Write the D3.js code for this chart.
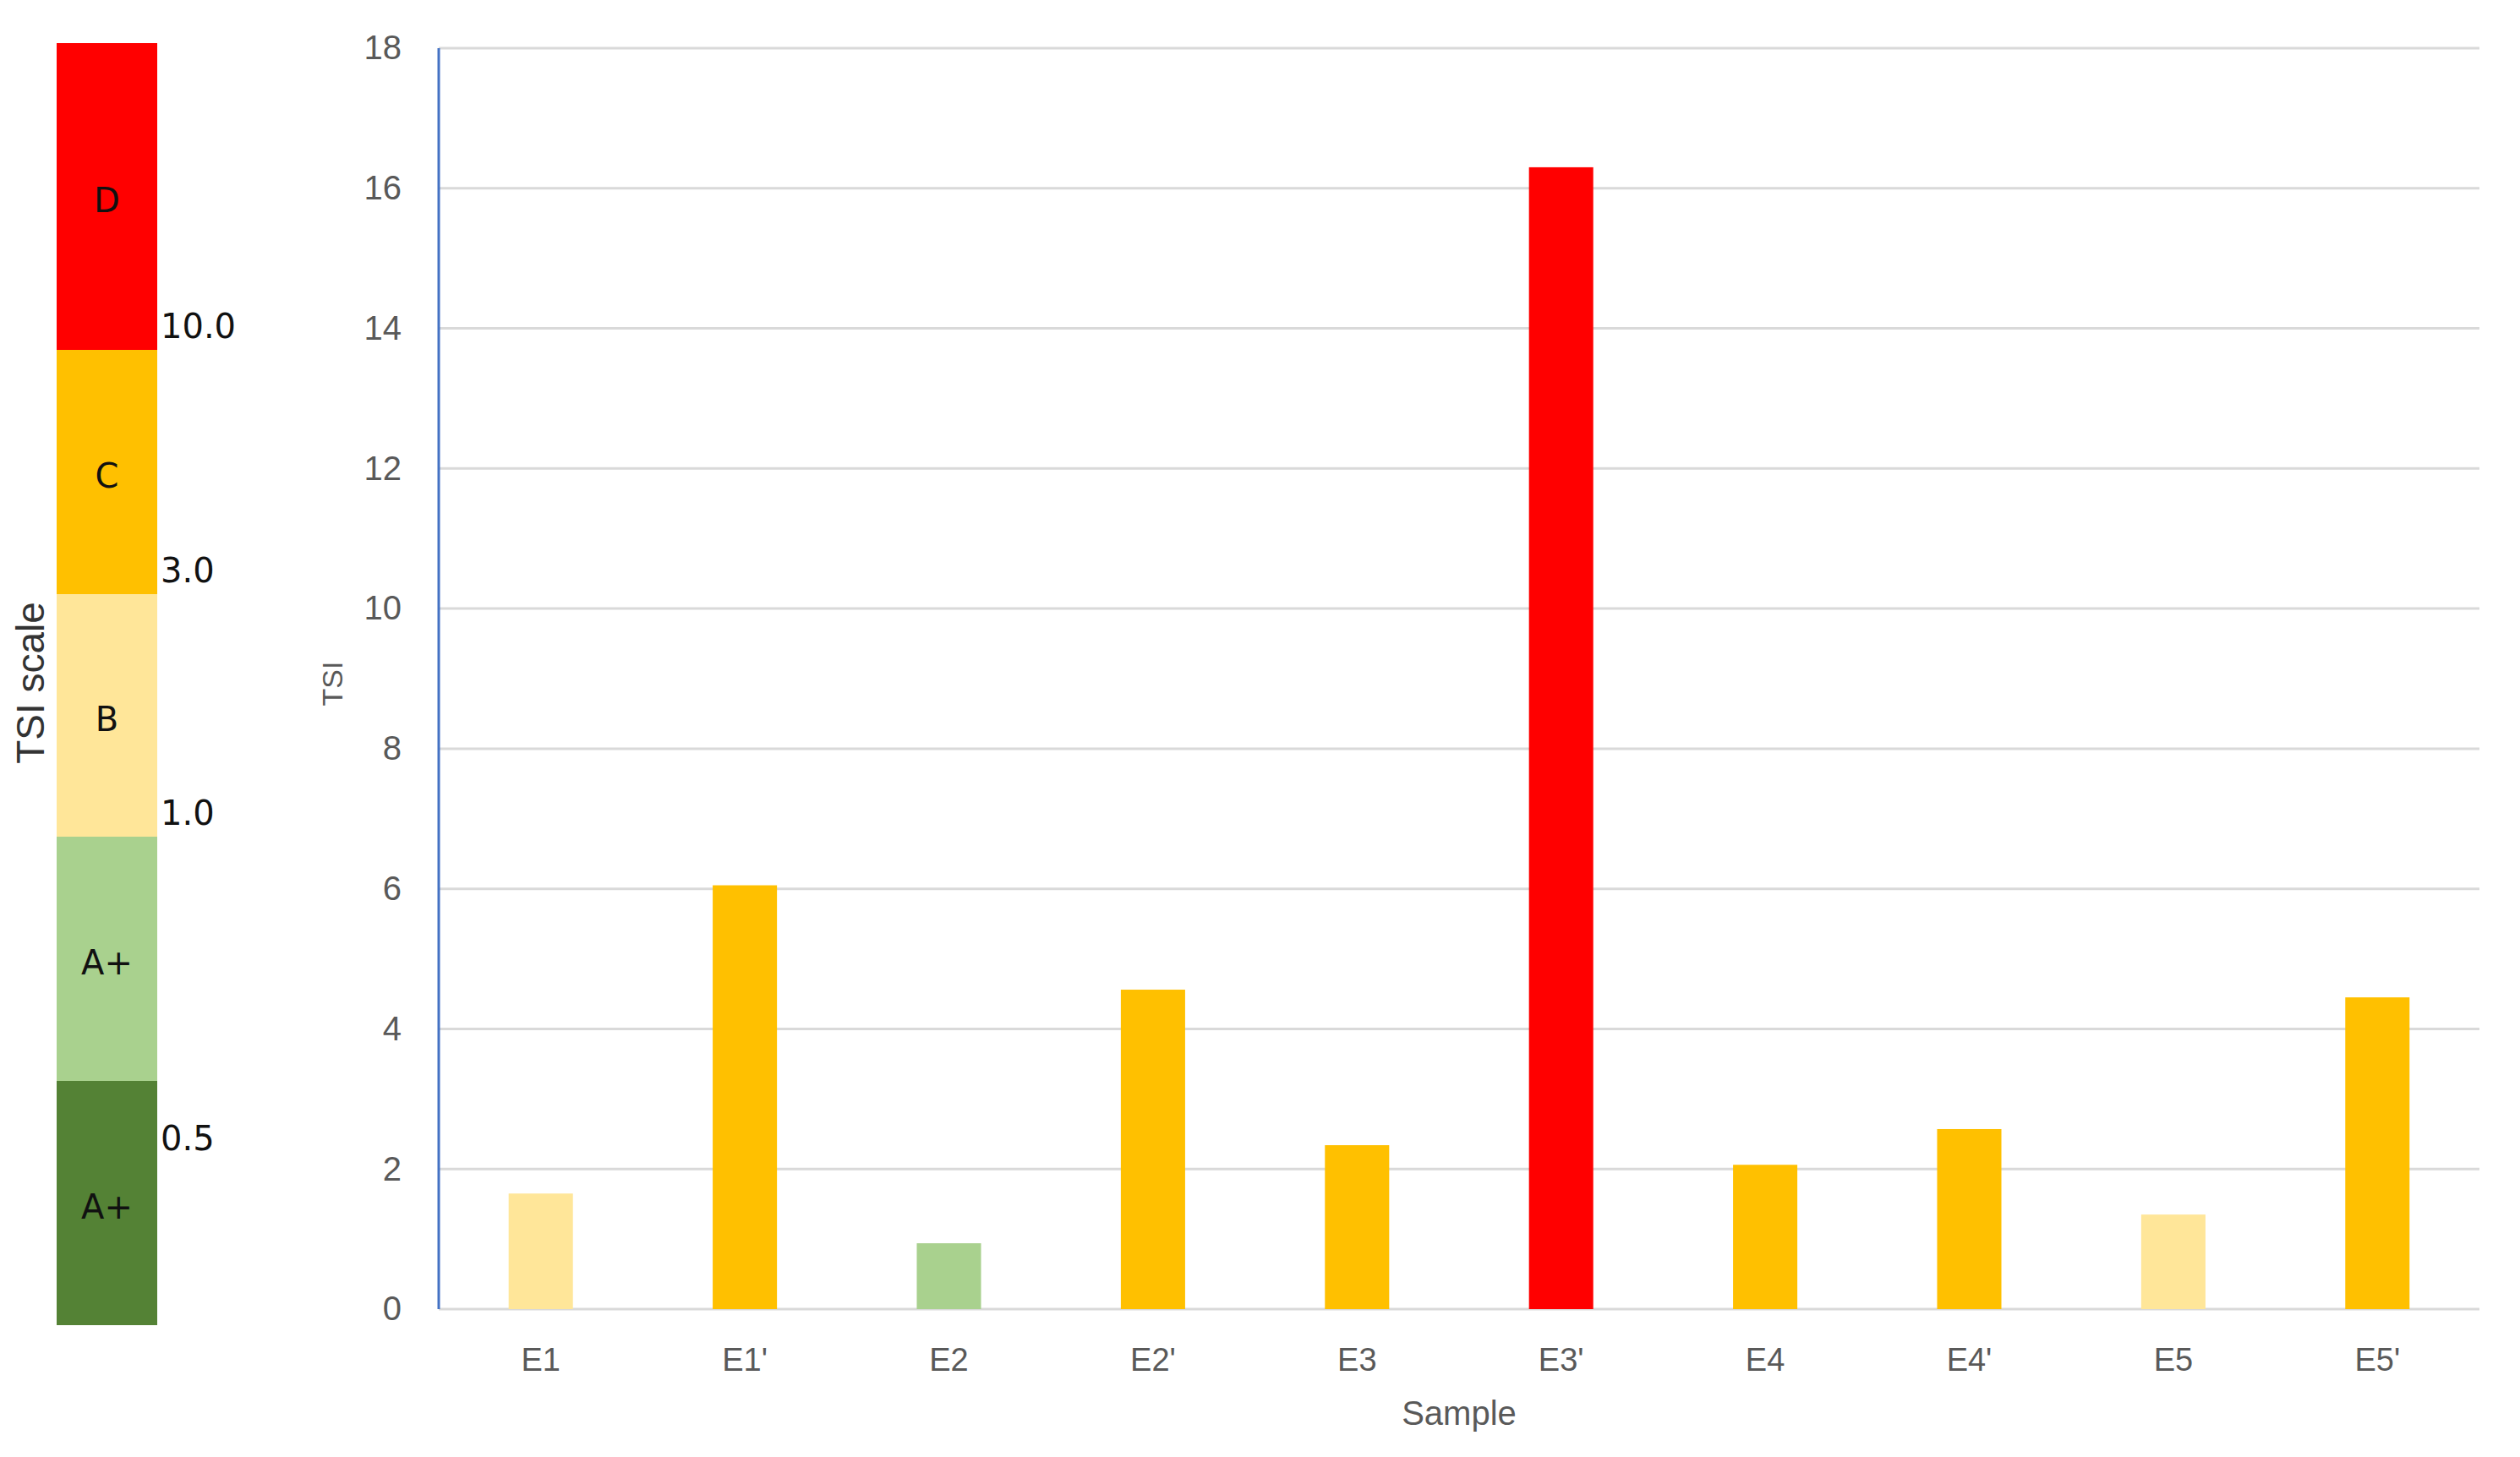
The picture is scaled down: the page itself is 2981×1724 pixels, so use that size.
<!DOCTYPE html>
<html>
<head>
<meta charset="utf-8">
<script src="https://cdn.jsdelivr.net/npm/d3@7"></script>
<style>
  html, body { margin: 0; padding: 0; background: #ffffff; }
  svg { display: block; }
</style>
</head>
<body>
<svg id="chart" width="2981" height="1724"></svg>
<script>
// ---------- DATA ----------
const samples = ["E1", "E1'", "E2", "E2'", "E3", "E3'", "E4", "E4'", "E5", "E5'"];
const tsiValues = [1.65, 6.05, 0.94, 4.56, 2.34, 16.3, 2.06, 2.57, 1.35, 4.45];
const sampleGrades = ["B", "C", "A+ (light)", "C", "C", "D", "C", "C", "B", "C"];
const yTicks = [0, 2, 4, 6, 8, 10, 12, 14, 16, 18];

// TSI scale legend (bottom to top)
const legendGrades = ["A+ (dark)", "A+ (light)", "B", "C", "D"];
const legendLabels = ["A+", "A+", "B", "C", "D"];
const legendColors = ["#548235", "#A9D18E", "#FFE699", "#FFC000", "#FF0000"];
const legendThresholds = ["0.5", "1.0", "3.0", "10.0"];

// ---------- LAYOUT ----------
const svg = d3.select("#chart");
const plot = { left: 519, right: 2933, top: 57, bottom: 1549 };

const x = d3.scaleBand()
  .domain(samples)
  .range([plot.left, plot.right])
  .paddingInner(0.685)
  .paddingOuter(0.3425);

const y = d3.scaleLinear().domain([0, 18]).range([plot.bottom, plot.top]);

const color = d3.scaleOrdinal().domain(legendGrades).range(legendColors);

// gridlines
svg.append("g")
  .selectAll("line")
  .data(yTicks)
  .join("line")
  .attr("x1", plot.left)
  .attr("x2", plot.right)
  .attr("y1", d => y(d))
  .attr("y2", d => y(d))
  .attr("stroke", "#d9d9d9")
  .attr("stroke-width", 3);

// bars
svg.append("g")
  .selectAll("rect")
  .data(samples)
  .join("rect")
  .attr("x", d => x(d))
  .attr("width", x.bandwidth())
  .attr("y", (d, i) => y(tsiValues[i]))
  .attr("height", (d, i) => y(0) - y(tsiValues[i]))
  .attr("fill", (d, i) => color(sampleGrades[i]));

// y axis line (blue)
svg.append("line")
  .attr("x1", plot.left).attr("x2", plot.left)
  .attr("y1", y(18)).attr("y2", y(0))
  .attr("stroke", "#4472C4")
  .attr("stroke-width", 3);

// y axis labels
const yAxis = d3.axisLeft(y).tickValues(yTicks).tickSize(0).tickPadding(44);
const gy = svg.append("g").attr("transform", `translate(${plot.left},0)`).call(yAxis);
gy.select(".domain").remove();
gy.selectAll("text")
  .attr("font-family", "'Liberation Sans', Arial, sans-serif")
  .attr("font-size", 40)
  .attr("fill", "#595959");

// x axis labels
const xAxis = d3.axisBottom(x).tickSize(0).tickPadding(46);
const gx = svg.append("g").attr("transform", `translate(0,${plot.bottom})`).call(xAxis);
gx.select(".domain").remove();
gx.selectAll("text")
  .attr("font-family", "'Liberation Sans Narrow', 'Liberation Sans', Arial, sans-serif")
  .attr("font-size", 38)
  .attr("fill", "#595959");

// axis titles
svg.append("text")
  .attr("x", (plot.left + plot.right) / 2)
  .attr("y", 1686)
  .attr("text-anchor", "middle")
  .attr("font-family", "'Liberation Sans Narrow', 'Liberation Sans', Arial, sans-serif")
  .attr("font-size", 40)
  .attr("fill", "#595959")
  .text("Sample");

svg.append("text")
  .attr("transform", `translate(405,${(plot.top + plot.bottom) / 2 + 6}) rotate(-90)`)
  .attr("text-anchor", "middle")
  .attr("font-family", "'Liberation Sans Narrow', 'Liberation Sans', Arial, sans-serif")
  .attr("font-size", 34)
  .attr("fill", "#595959")
  .text("TSI");

// ---------- TSI SCALE LEGEND ----------
const seg = d3.scaleLinear().domain([0, 1, 2, 3, 4, 5]).range([1568, 1279, 990, 703, 414, 51]);
const legendX = 67, legendW = 119;
const lg = svg.append("g");

lg.selectAll("rect")
  .data(legendGrades)
  .join("rect")
  .attr("x", legendX)
  .attr("width", legendW)
  .attr("y", (d, i) => seg(i + 1))
  .attr("height", (d, i) => seg(i) - seg(i + 1))
  .attr("fill", d => color(d));

lg.selectAll("text.grade")
  .data(legendLabels)
  .join("text")
  .attr("class", "grade")
  .attr("x", legendX + legendW / 2)
  .attr("y", (d, i) => (seg(i) + seg(i + 1)) / 2 + 4)
  .attr("dy", "0.36em")
  .attr("text-anchor", "middle")
  .attr("font-family", "'DejaVu Sans', Verdana, sans-serif")
  .attr("font-size", 40)
  .attr("fill", "#111")
  .text(d => d);

lg.selectAll("text.thr")
  .data(legendThresholds)
  .join("text")
  .attr("class", "thr")
  .attr("x", legendX + legendW + 4)
  .attr("y", (d, i) => i === 0 ? seg(i + 1) + 82 : seg(i + 1) - 14)
  .attr("font-family", "'DejaVu Sans', Verdana, sans-serif")
  .attr("font-size", 40)
  .attr("fill", "#111")
  .text(d => d);

svg.append("text")
  .attr("transform", `translate(52,${808}) rotate(-90)`)
  .attr("text-anchor", "middle")
  .attr("font-family", "'Liberation Sans Narrow', 'Liberation Sans', Arial, sans-serif")
  .attr("font-size", 46)
  .attr("fill", "#333")
  .text("TSI scale");
</script>
</body>
</html>
